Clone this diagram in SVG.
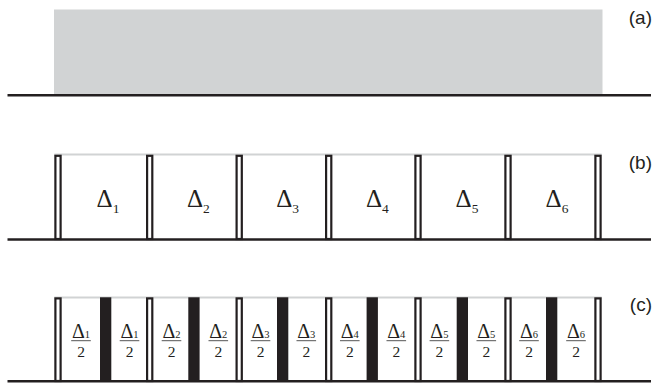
<svg xmlns="http://www.w3.org/2000/svg" width="657" height="384" viewBox="0 0 657 384">
<style>
.base{stroke:#231f20;stroke-width:2.5;fill:none}
.top{stroke:#d1d3d4;stroke-width:2;fill:none}
.post{fill:#fff;stroke:#231f20;stroke-width:2.2}
.blk{fill:#231f20}
.bar{stroke:#555;stroke-width:1}
.lab{font-family:"Liberation Sans",Arial,sans-serif;font-size:19px;fill:#231f20;text-anchor:end}
.d{font-family:"Liberation Serif","Times New Roman",serif;font-size:25px;fill:#231f20;text-anchor:middle}
.s{font-size:13.5px}
.fd{font-family:"Liberation Serif","Times New Roman",serif;font-size:20px;fill:#231f20;text-anchor:middle}
.fs{font-size:10.5px}
.two{font-family:"Liberation Serif","Times New Roman",serif;font-size:15.5px;fill:#231f20;text-anchor:middle}
</style>
<defs>
<g id="fr">
<line class="bar" x1="-9.8" y1="340.7" x2="9.8" y2="340.7"/>
<text class="two" x="0" y="356.5">2</text>
</g>
</defs>

<g id="panel-a">
<rect x="54" y="9.5" width="548.5" height="85.5" fill="#d1d3d4"/>
<text class="lab" x="652" y="24">(a)</text>
</g>

<g id="panel-b">
<line class="top" x1="54.3" y1="154.6" x2="601.7" y2="154.6"/>
<rect class="post" x="55.4" y="155.8" width="5.2" height="83.2"/>
<rect class="post" x="147.1" y="155.8" width="5.2" height="83.2"/>
<rect class="post" x="236.6" y="155.8" width="5.2" height="83.2"/>
<rect class="post" x="326.1" y="155.8" width="5.2" height="83.2"/>
<rect class="post" x="415.4" y="155.8" width="5.2" height="83.2"/>
<rect class="post" x="505.4" y="155.8" width="5.2" height="83.2"/>
<rect class="post" x="595.4" y="155.8" width="5.2" height="83.2"/>
<text class="d" x="108" y="206.7">Δ<tspan class="s" dy="6.5">1</tspan></text>
<text class="d" x="198.4" y="206.7">Δ<tspan class="s" dy="6.5">2</tspan></text>
<text class="d" x="287.7" y="206.7">Δ<tspan class="s" dy="6.5">3</tspan></text>
<text class="d" x="377.3" y="206.7">Δ<tspan class="s" dy="6.5">4</tspan></text>
<text class="d" x="467" y="206.7">Δ<tspan class="s" dy="6.5">5</tspan></text>
<text class="d" x="557" y="206.7">Δ<tspan class="s" dy="6.5">6</tspan></text>
<text class="lab" x="652" y="168.5">(b)</text>
</g>

<g id="panel-c">
<line class="top" x1="54.3" y1="297.6" x2="601.7" y2="297.6"/>
<rect class="post" x="55.4" y="298.4" width="5.2" height="82.6"/>
<rect class="post" x="147.1" y="298.4" width="5.2" height="82.6"/>
<rect class="post" x="236.6" y="298.4" width="5.2" height="82.6"/>
<rect class="post" x="326.1" y="298.4" width="5.2" height="82.6"/>
<rect class="post" x="415.4" y="298.4" width="5.2" height="82.6"/>
<rect class="post" x="505.4" y="298.4" width="5.2" height="82.6"/>
<rect class="post" x="595.4" y="298.4" width="5.2" height="82.6"/>
<rect class="blk" x="100" y="297.3" width="11.3" height="83.7"/>
<rect class="blk" x="188.3" y="297.3" width="11.3" height="83.7"/>
<rect class="blk" x="277" y="297.3" width="11.3" height="83.7"/>
<rect class="blk" x="366.6" y="297.3" width="11.3" height="83.7"/>
<rect class="blk" x="456.7" y="297.3" width="11.3" height="83.7"/>
<rect class="blk" x="546" y="297.3" width="11.3" height="83.7"/>

<text class="fd" x="81" y="338.3">Δ<tspan class="fs">1</tspan></text><use href="#fr" x="81"/>
<text class="fd" x="129.5" y="338.3">Δ<tspan class="fs">1</tspan></text><use href="#fr" x="129.5"/>
<text class="fd" x="171.5" y="338.3">Δ<tspan class="fs">2</tspan></text><use href="#fr" x="171.5"/>
<text class="fd" x="218.3" y="338.3">Δ<tspan class="fs">2</tspan></text><use href="#fr" x="218.3"/>
<text class="fd" x="260.5" y="338.3">Δ<tspan class="fs">3</tspan></text><use href="#fr" x="260.5"/>
<text class="fd" x="306.3" y="338.3">Δ<tspan class="fs">3</tspan></text><use href="#fr" x="306.3"/>
<text class="fd" x="349.8" y="338.3">Δ<tspan class="fs">4</tspan></text><use href="#fr" x="349.8"/>
<text class="fd" x="396.3" y="338.3">Δ<tspan class="fs">4</tspan></text><use href="#fr" x="396.3"/>
<text class="fd" x="439.4" y="338.3">Δ<tspan class="fs">5</tspan></text><use href="#fr" x="439.4"/>
<text class="fd" x="486.3" y="338.3">Δ<tspan class="fs">5</tspan></text><use href="#fr" x="486.3"/>
<text class="fd" x="529" y="338.3">Δ<tspan class="fs">6</tspan></text><use href="#fr" x="529"/>
<text class="fd" x="576" y="338.3">Δ<tspan class="fs">6</tspan></text><use href="#fr" x="576"/>
<text class="lab" x="652" y="310.5">(c)</text>
</g>

<g id="connectors">
<line class="base" x1="7.5" y1="95.3" x2="651" y2="95.3"/>
<line class="base" x1="7.5" y1="239.4" x2="651" y2="239.4"/>
<line class="base" x1="7.5" y1="381.2" x2="651" y2="381.2"/>
</g>
</svg>
